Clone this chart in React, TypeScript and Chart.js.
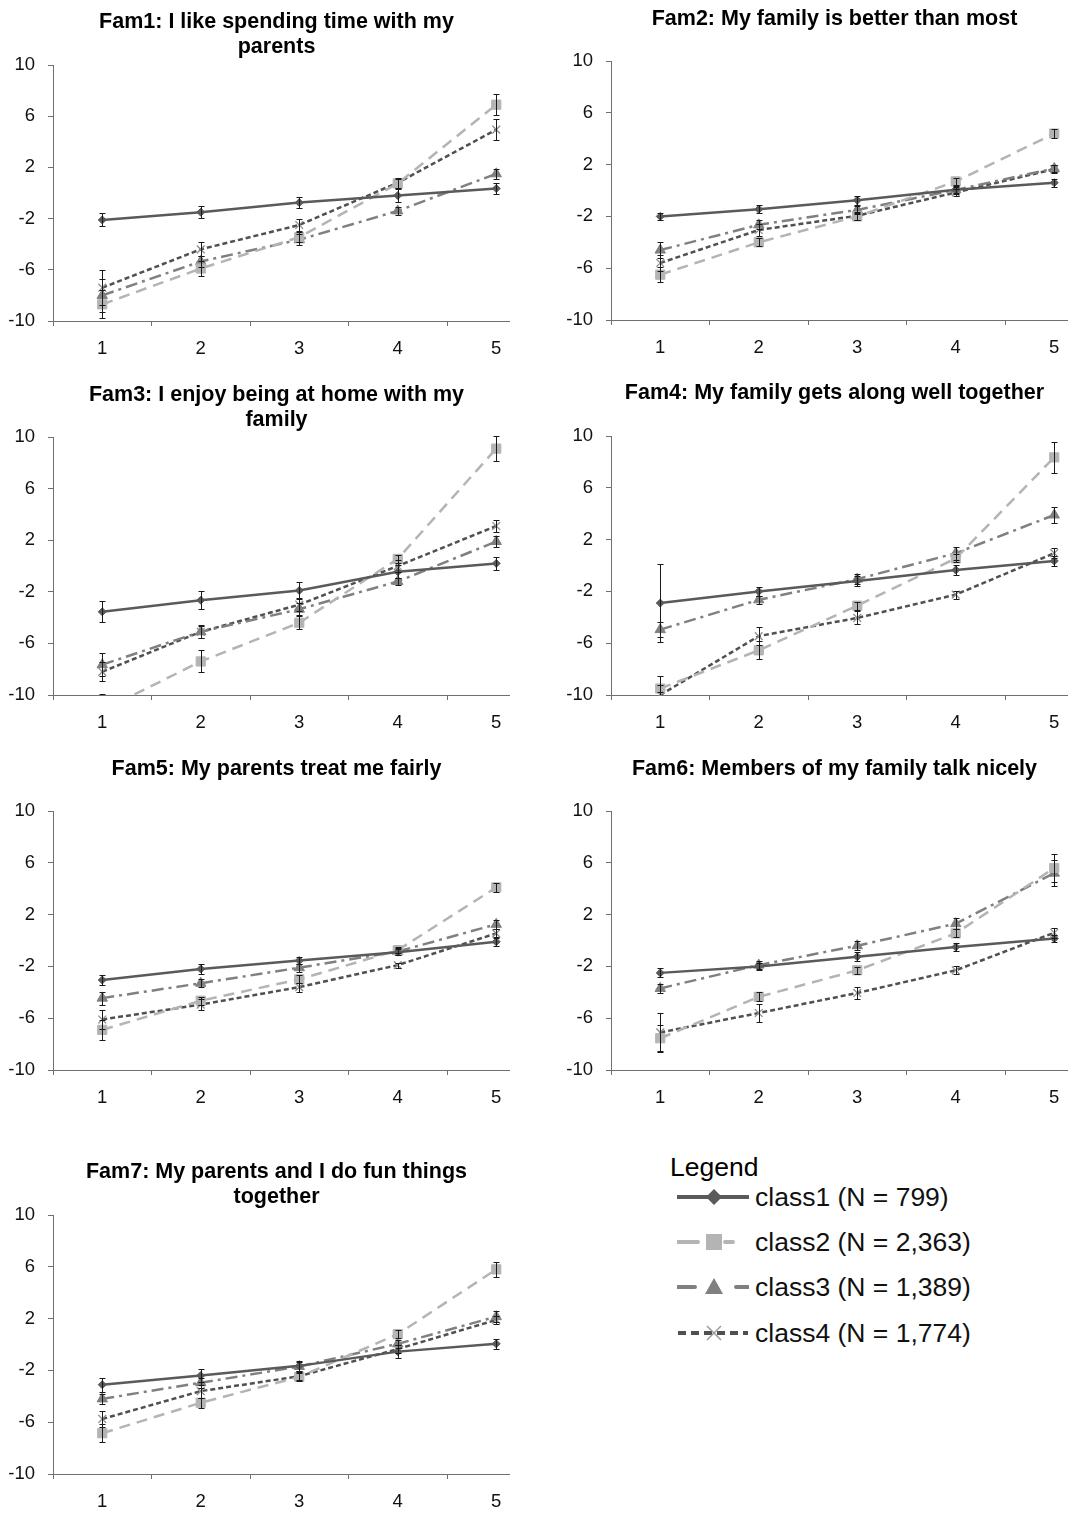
import React, { useEffect, useRef } from 'react';
import { Chart, registerables } from 'chart.js';

Chart.register(...registerables);

// ---------- data ----------
const xLabels = ['1', '2', '3', '4', '5'];
const yMin = -10;
const yMax = 10;
const yStep = 4;

const classNames = ['class1 (N = 799)', 'class2 (N = 2,363)', 'class3 (N = 1,389)', 'class4 (N = 1,774)'];

const fam1Title = ['Fam1: I like spending time with my', 'parents'];
const fam1Means = [
  [-2.1, -1.5, -0.75, -0.2, 0.35],
  [-8.7, -5.9, -3.45, 0.75, 6.9],
  [-8.0, -5.35, -3.65, -1.4, 1.5],
  [-7.4, -4.4, -2.5, 0.8, 4.95],
];
const fam1Errors = [
  [0.5, 0.45, 0.45, 0.5, 0.45],
  [1.1, 0.6, 0.4, 0.35, 0.8],
  [1.3, 0.4, 0.45, 0.3, 0.4],
  [1.35, 0.55, 0.5, 0.4, 0.8],
];

const fam2Title = ['Fam2: My family is better than most'];
const fam2Means = [
  [-2.0, -1.45, -0.75, 0.05, 0.6],
  [-6.5, -4.0, -2.0, 0.7, 4.4],
  [-4.6, -2.65, -1.5, 0.05, 1.7],
  [-5.6, -3.05, -1.95, -0.15, 1.65],
];
const fam2Errors = [
  [0.3, 0.3, 0.35, 0.3, 0.3],
  [0.6, 0.3, 0.3, 0.25, 0.35],
  [0.6, 0.35, 0.3, 0.25, 0.3],
  [0.6, 0.45, 0.3, 0.25, 0.3],
];

const fam3Title = ['Fam3: I enjoy being at home with my', 'family'];
const fam3Means = [
  [-3.55, -2.65, -1.9, -0.45, 0.2],
  [-11.2, -7.4, -4.4, 0.55, 9.1],
  [-7.65, -5.1, -3.35, -1.2, 1.9],
  [-8.2, -5.1, -3.0, 0.0, 3.1],
];
const fam3Errors = [
  [0.8, 0.7, 0.65, 0.5, 0.5],
  [1.3, 0.85, 0.5, 0.3, 0.95],
  [0.9, 0.45, 0.45, 0.3, 0.45],
  [0.75, 0.5, 0.5, 0.5, 0.5],
];

const fam4Title = ['Fam4: My family gets along well together'];
const fam4Means = [
  [-2.9, -2.0, -1.2, -0.35, 0.35],
  [-9.5, -6.55, -3.1, 0.55, 8.35],
  [-4.95, -2.65, -1.05, 0.95, 3.9],
  [-10.0, -5.45, -4.05, -2.25, 0.95],
];
const fam4Errors = [
  [3.0, 0.35, 0.4, 0.4, 0.4],
  [0.3, 0.7, 0.3, 0.3, 1.2],
  [0.6, 0.3, 0.4, 0.5, 0.6],
  [1.5, 0.7, 0.5, 0.3, 0.4],
];

const fam5Title = ['Fam5: My parents treat me fairly'];
const fam5Means = [
  [-3.05, -2.2, -1.55, -0.9, -0.1],
  [-6.9, -4.65, -3.0, -0.75, 4.1],
  [-4.45, -3.3, -2.1, -0.85, 1.25],
  [-6.1, -4.95, -3.6, -1.9, 0.55],
];
const fam5Errors = [
  [0.4, 0.35, 0.3, 0.25, 0.3],
  [0.75, 0.3, 0.3, 0.25, 0.35],
  [0.5, 0.3, 0.3, 0.25, 0.35],
  [0.75, 0.4, 0.35, 0.2, 0.3],
];

const fam6Title = ['Fam6: Members of my family talk nicely'];
const fam6Means = [
  [-2.5, -2.0, -1.25, -0.5, 0.15],
  [-7.55, -4.35, -2.3, 0.55, 5.6],
  [-3.7, -1.9, -0.4, 1.3, 5.2],
  [-7.1, -5.6, -4.05, -2.3, 0.6],
];
const fam6Errors = [
  [0.35, 0.3, 0.35, 0.3, 0.3],
  [1.0, 0.35, 0.25, 0.3, 1.1],
  [0.35, 0.3, 0.35, 0.4, 1.0],
  [1.5, 0.7, 0.45, 0.3, 0.4],
];

const fam7Title = ['Fam7: My parents and I do fun things', 'together'];
const fam7Means = [
  [-3.1, -2.4, -1.65, -0.55, 0.05],
  [-6.85, -4.5, -2.5, 0.8, 5.8],
  [-4.2, -2.95, -1.7, 0.05, 2.15],
  [-5.75, -3.6, -2.45, -0.35, 1.9],
];
const fam7Errors = [
  [0.55, 0.5, 0.4, 0.5, 0.4],
  [0.7, 0.4, 0.3, 0.3, 0.6],
  [0.4, 0.4, 0.35, 0.3, 0.4],
  [0.6, 0.5, 0.3, 0.3, 0.3],
];

// ---------- styles / layout ----------
const FONT = "'Liberation Sans', Arial, Helvetica, sans-serif";
const axisColor = '#707070';
const lineColors = ['#5a5a5a', '#b4b4b4', '#808080', '#505050'];
const pointFill = ['#5a5a5a', '#b4b4b4', '#808080', 'rgba(0,0,0,0)'];
const pointBorder = ['#5a5a5a', '#b4b4b4', '#808080', '#8e8e8e'];
const pointStyles = ['rectRot', 'rect', 'triangle', 'crossRot'];
const pointRadii = [4, 6.5, 6, 5.5];
const pointBorderWidths = [1, 1, 1, 1.3];
const dashes: number[][] = [[], [11, 7], [12, 5, 3, 5], [5, 3]];

const panels = [
  { title: fam1Title, means: fam1Means, errors: fam1Errors, left: 0, top: 10, height: 351, titlePad: 5 },
  { title: fam2Title, means: fam2Means, errors: fam2Errors, left: 558, top: 7, height: 353, titlePad: 29 },
  { title: fam3Title, means: fam3Means, errors: fam3Errors, left: 0, top: 383, height: 352, titlePad: 4 },
  { title: fam4Title, means: fam4Means, errors: fam4Errors, left: 558, top: 381, height: 354, titlePad: 30 },
  { title: fam5Title, means: fam5Means, errors: fam5Errors, left: 0, top: 757, height: 353, titlePad: 29 },
  { title: fam6Title, means: fam6Means, errors: fam6Errors, left: 558, top: 757, height: 353, titlePad: 29 },
  { title: fam7Title, means: fam7Means, errors: fam7Errors, left: 0, top: 1160, height: 354, titlePad: 5 },
];

const CANVAS_W = 553;
const VISIBLE_W = 510;

const errorBarPlugin = {
  id: 'errorBars',
  afterDatasetsDraw(chart: any) {
    const { ctx, chartArea, scales } = chart;
    const ys = scales.y;
    ctx.save();
    ctx.beginPath();
    ctx.rect(chartArea.left - 10, chartArea.top - 10, chartArea.right - chartArea.left + 20, chartArea.bottom - chartArea.top + 10);
    ctx.clip();
    ctx.strokeStyle = '#1a1a1a';
    ctx.lineWidth = 1;
    chart.data.datasets.forEach((ds: any, i: number) => {
      const meta = chart.getDatasetMeta(i);
      (ds.errorBars || []).forEach((e: number, j: number) => {
        const pt = meta.data[j];
        const v = ds.data[j];
        if (!pt) return;
        const x = Math.round(pt.x) + 0.5;
        const yt = Math.round(ys.getPixelForValue(v + e)) + 0.5;
        const yb = Math.round(ys.getPixelForValue(v - e)) + 0.5;
        ctx.beginPath();
        ctx.moveTo(x, yt);
        ctx.lineTo(x, yb);
        ctx.moveTo(x - 3, yt);
        ctx.lineTo(x + 3, yt);
        ctx.moveTo(x - 3, yb);
        ctx.lineTo(x + 3, yb);
        ctx.stroke();
      });
    });
    ctx.restore();
  },
};

function Panel({ p }: { p: (typeof panels)[number] }) {
  const ref = useRef<HTMLCanvasElement | null>(null);
  useEffect(() => {
    if (!ref.current) return;
    const tickFont = { family: FONT, size: 18.5 };
    const chart = new Chart(ref.current, {
      type: 'line',
      data: {
        labels: xLabels,
        datasets: p.means.map((m, i) => ({
          label: classNames[i],
          data: m,
          errorBars: p.errors[i],
          borderColor: lineColors[i],
          backgroundColor: lineColors[i],
          borderWidth: 2.5,
          borderDash: dashes[i],
          pointStyle: pointStyles[i],
          pointRadius: pointRadii[i],
          pointBackgroundColor: pointFill[i],
          pointBorderColor: pointBorder[i],
          pointBorderWidth: pointBorderWidths[i],
          fill: false,
          tension: 0,
          clip: { left: 20, top: 20, right: 20, bottom: 1 },
        })) as any,
      },
      options: {
        responsive: false,
        animation: false,
        layout: { padding: 0 },
        events: [],
        plugins: {
          legend: { display: false },
          tooltip: { enabled: false },
          title: {
            display: true,
            text: p.title,
            color: '#000',
            font: { family: FONT, size: 21.5, weight: 'bold', lineHeight: 25 / 21.5 },
            padding: { top: 0, bottom: p.titlePad },
          },
        },
        scales: {
          x: {
            type: 'category',
            offset: true,
            grid: { offset: true, drawOnChartArea: false, drawTicks: true, tickLength: 5, color: axisColor },
            border: { display: true, color: axisColor, width: 1 },
            ticks: { font: tickFont, color: '#111', padding: 12, maxRotation: 0, autoSkip: false },
            afterFit: (s: any) => {
              s.height = 40;
            },
          },
          y: {
            type: 'linear',
            min: yMin,
            max: yMax,
            ticks: { stepSize: yStep, font: tickFont, color: '#111', padding: 13 },
            grid: { drawOnChartArea: false, drawTicks: true, tickLength: 5, color: axisColor },
            border: { display: true, color: axisColor, width: 1 },
            afterFit: (s: any) => {
              s.width = 53;
            },
          },
        },
      } as any,
      plugins: [errorBarPlugin],
    });
    return () => chart.destroy();
  }, [p]);
  return (
    <div style={{ position: 'absolute', left: p.left, top: p.top, width: VISIBLE_W, height: p.height, overflow: 'hidden' }}>
      <canvas ref={ref} width={CANVAS_W} height={p.height} style={{ display: 'block' }} />
    </div>
  );
}

function LegendSample({ i }: { i: number }) {
  const c = lineColors[i];
  if (i === 0)
    return (
      <svg width={72} height={30}>
        <line x1={0} y1={15} x2={71} y2={15} stroke={c} strokeWidth={4} strokeLinecap="round" />
        <polygon points="37,7 45,15 37,23 29,15" fill={c} />
      </svg>
    );
  if (i === 1)
    return (
      <svg width={72} height={30}>
        <line x1={1} y1={15} x2={71} y2={15} stroke={c} strokeWidth={4} strokeDasharray="20 27 8 100" strokeLinecap="round" />
        <rect x={29} y={7} width={16} height={16} fill={c} />
      </svg>
    );
  if (i === 2)
    return (
      <svg width={72} height={30}>
        <line x1={1} y1={15} x2={71} y2={15} stroke={c} strokeWidth={4} strokeDasharray="17 41 12 100" strokeLinecap="round" />
        <polygon points="37,6 46,22 28,22" fill={c} />
      </svg>
    );
  return (
    <svg width={72} height={30}>
      <line x1={1} y1={15} x2={71} y2={15} stroke={c} strokeWidth={4} strokeDasharray="8 5" />
      <line x1={30} y1={8} x2={44} y2={22} stroke="#9a9a9a" strokeWidth={1.5} />
      <line x1={44} y1={8} x2={30} y2={22} stroke="#9a9a9a" strokeWidth={1.5} />
    </svg>
  );
}

const legendRowCenters = [1197, 1242, 1287, 1333];

export default function App() {
  return (
    <div style={{ position: 'absolute', left: 0, top: 0, width: 1068, height: 1514, background: '#fff', overflow: 'hidden' }}>
      {panels.map((p, i) => (
        <Panel key={i} p={p} />
      ))}
      <div style={{ position: 'absolute', left: 670, top: 1151, fontFamily: FONT, fontSize: 26.5, lineHeight: '32px', color: '#000' }}>
        Legend
      </div>
      {classNames.map((n, i) => (
        <div
          key={n}
          style={{
            position: 'absolute',
            left: 677,
            top: legendRowCenters[i] - 16,
            height: 32,
            display: 'flex',
            alignItems: 'center',
            fontFamily: FONT,
            fontSize: 26.5,
            lineHeight: '32px',
            color: '#111',
            whiteSpace: 'nowrap',
          }}
        >
          <LegendSample i={i} />
          <span style={{ marginLeft: 6 }}>{n}</span>
        </div>
      ))}
    </div>
  );
}
